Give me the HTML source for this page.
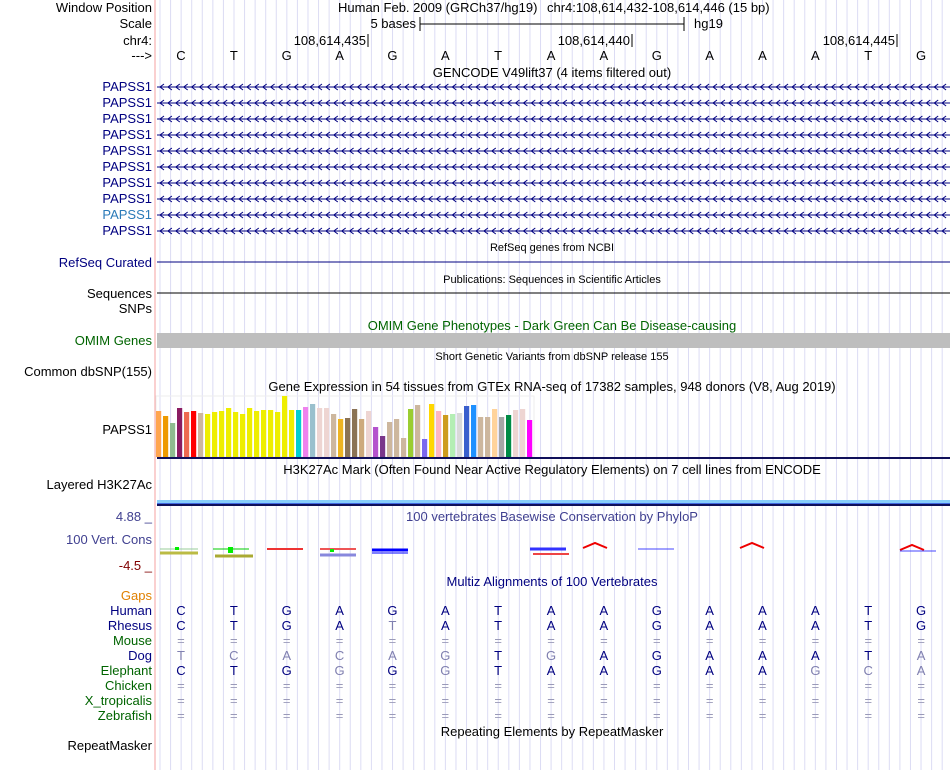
<!DOCTYPE html>
<html><head><meta charset="utf-8"><style>
html,body{margin:0;padding:0;background:#fff;}
svg{display:block;font-family:"Liberation Sans",sans-serif;font-size:13px;}
</style></head><body>
<svg id="c" width="950" height="770">
</svg>
<script>
const bases=["C","T","G","A","G","A","T","A","A","G","A","A","A","T","G"];
const gtexValues=[46,41,34,49,45,46,44,43,45,46,49,45,43,49,46,47,47,45,61,47,47,50,53,49,49,43,38,39,48,38,46,30,21,35,38,19,48,52,18,53,46,42,43,44,51,52,40,40,48,40,42,47,48,37];
const gtexColors=["#FFA54F","#EE9A00","#8FBC8F","#8B1C62","#EE6A50","#FF0000","#CDB79E","#EEEE00","#EEEE00","#EEEE00","#EEEE00","#EEEE00","#EEEE00","#EEEE00","#EEEE00","#EEEE00","#EEEE00","#EEEE00","#EEEE00","#EEEE00","#00CED1","#EE82EE","#9AC0CD","#EED5D2","#EED5D2","#CDB79E","#EEB422","#8B7355","#8B7355","#CDAA7D","#EED5D2","#B452CD","#7A378B","#CDB79E","#CDB79E","#CDB79E","#9ACD32","#CDB79E","#7B68EE","#FFD700","#FFB6C1","#CD9B1D","#B4EEB4","#D9D9D9","#3A5FCD","#1E90FF","#CDB79E","#CDB79E","#FFD39B","#A6A6A6","#008B45","#EED5D2","#EED5D2","#FF00FF"];
const rhesus=["C","T","G","A","T","A","T","A","A","G","A","A","A","T","G"];
const rhesusDark=[1,1,1,1,0,1,1,1,1,1,1,1,1,1,1];
const dog=["T","C","A","C","A","G","T","G","A","G","A","A","A","T","A"];
const dogDark=[0,0,0,0,0,0,1,0,1,1,1,1,1,1,0];
const elephant=["C","T","G","G","G","G","T","A","A","G","A","A","G","C","A"];
const elephantDark=[1,1,1,0,1,0,1,1,1,1,1,1,0,0,0];

const S=document.getElementById('c');const NS="http://www.w3.org/2000/svg";
function el(t,a,txt){const e=document.createElementNS(NS,t);for(const k in a)e.setAttribute(k,a[k]);if(txt!==undefined)e.textContent=txt;S.appendChild(e);return e;}
const x0=154.5,bw=52.87;
function bx(i){return x0+bw*(i+0.5);}
for(let x=160;x<950;x+=10.57){const g=el('line',{x1:x,x2:x,y1:0,y2:770,stroke:'#dcdcf4','stroke-width':1});

}
const rl=el('line',{x1:155,x2:155,y1:0,y2:770,stroke:'#f4a0a0'});

function lab(t,y,c,name){const e=el('text',{x:152,y:y,'text-anchor':'end',fill:c||'#000'},t);

return e;}
function title(t,y,c,fs,name){const e=el('text',{x:552,y:y,'text-anchor':'middle',fill:c||'#000','font-size':fs||13},t);

return e;}
lab('Window Position',12,'#000','window-position-label');lab('Scale',28,'#000','scale-label');lab('chr4:',45,'#000','chr-label');lab('--->',60,'#000','strand-label');
el('text',{x:338,y:12},'Human Feb. 2009 (GRCh37/hg19)');
el('text',{x:547,y:12},'chr4:108,614,432-108,614,446 (15 bp)');
el('text',{x:416,y:28,'text-anchor':'end'},'5 bases');
el('line',{x1:420,x2:684,y1:24,y2:24,stroke:'#000'});el('line',{x1:420,x2:420,y1:17,y2:31,stroke:'#000'});el('line',{x1:684,x2:684,y1:17,y2:31,stroke:'#000'});
el('text',{x:694,y:28},'hg19');
[[368,'108,614,435'],[632,'108,614,440'],[897,'108,614,445']].forEach(p=>{el('text',{x:p[0]-2,y:45,'text-anchor':'end'},p[1]);el('line',{x1:p[0],x2:p[0],y1:34,y2:47,stroke:'#000'});});
bases.forEach((b,i)=>{const t=el('text',{x:bx(i),y:60,'text-anchor':'middle'},b);});
title('GENCODE V49lift37 (4 items filtered out)',77,'#000',13,'gencode-title');
for(let r=0;r<10;r++){const y=87+16*r;lab('PAPSS1',y+4,r==8?'#2a7ab8':'#000080','gene-label');
el('line',{x1:157,x2:950,y1:y,y2:y,stroke:'#000080'});
let d='';for(let x=160;x<948;x+=7.9){d+=`M${x+4} ${y-3}L${x} ${y}L${x+4} ${y+3}`;}
const p=el('path',{d:d,stroke:'#000080',fill:'none','stroke-width':1});}
title('RefSeq genes from NCBI',251,'#000',11,'refseq-title');lab('RefSeq Curated',267,'#000080','refseq-label');el('line',{x1:157,x2:950,y1:262,y2:262,stroke:'#000080'});
title('Publications: Sequences in Scientific Articles',283,'#000',11,'publications-title');lab('Sequences',298);el('line',{x1:157,x2:950,y1:293,y2:293,stroke:'#000'});
lab('SNPs',313);
title('OMIM Gene Phenotypes - Dark Green Can Be Disease-causing',330,'#006400',13,'omim-title');lab('OMIM Genes',345,'#006400','omim-label');
el('rect',{x:157,y:333,width:793,height:15,fill:'#bebebe'});
title('Short Genetic Variants from dbSNP release 155',360,'#000',11,'dbsnp-title');lab('Common dbSNP(155)',376);
title('Gene Expression in 54 tissues from GTEx RNA-seq of 17382 samples, 948 donors (V8, Aug 2019)',391,'#000',13,'gtex-title');
lab('PAPSS1',434,'#000','gtex-gene-label');
el('rect',{x:156,y:396,width:378,height:61,fill:'none',stroke:'#eee'});
const base=457,bstep=7.0;
gtexValues.forEach((v,i)=>{const r=el('rect',{x:156+i*bstep,y:base-v,width:5.2,height:v,fill:gtexColors[i]});

});
el('rect',{x:157,y:457,width:793,height:2,fill:'#10105a'});
title('H3K27Ac Mark (Often Found Near Active Regulatory Elements) on 7 cell lines from ENCODE',474,'#000',13,'h3k27ac-title');lab('Layered H3K27Ac',489);
el('rect',{x:157,y:500,width:793,height:3,fill:'#87cefa'});el('rect',{x:157,y:503,width:793,height:1,fill:'#4169e1'});el('rect',{x:157,y:504,width:793,height:2,fill:'#10105a'});
lab('4.88 _',521,'#404090','cons-max');lab('100 Vert. Cons',544,'#404090','cons-label');lab('-4.5 _',570,'#800000','cons-min');
title('100 vertebrates Basewise Conservation by PhyloP',521,'#404090',13,'phylop-title');
const g=[['M160 549h38','#9c9','1'],['M160 553h38','#bb4','3'],['M213 549h36','#0c0','1'],['M215 556h38','#aa3','3'],['M267 549h36','#e33','2'],['M320 549h36','#e55','2'],['M320 555h36','#88d','3'],['M372 550h36','#00f','3'],['M372 553h36','#00f','1'],['M530 549h36','#33f','3'],['M533 554h36','#e44','2'],['M583 548l12-5l12 5','#e00','2'],['M638 549h36','#44f','1'],['M740 548l12-5l12 5','#e00','2'],['M900 550l12-5l12 5','#e00','2'],['M900 551h36','#44f','1']];
g.forEach(q=>{const p=el('path',{d:q[0],stroke:q[1],'stroke-width':q[2],fill:'none'});});
el('rect',{x:175,y:547,width:4,height:3,fill:'#0e0'});el('rect',{x:228,y:547,width:5,height:6,fill:'#0e0'});el('rect',{x:330,y:549,width:4,height:3,fill:'#0e0'});
title('Multiz Alignments of 100 Vertebrates',586,'#000080',13,'multiz-title');
lab('Gaps',600,'#e08000','gaps-label');
const rows=[['Human',615,'#000080',bases,null],['Rhesus',630,'#000080',rhesus,rhesusDark],['Mouse',645,'#006400',null,null],['Dog',660,'#000080',dog,dogDark],['Elephant',675,'#006400',elephant,elephantDark],['Chicken',690,'#006400',null,null],['X_tropicalis',705,'#006400',null,null],['Zebrafish',720,'#006400',null,null]];
rows.forEach(r=>{lab(r[0],r[1],r[2],'species-label');
for(let i=0;i<15;i++){let t,c;if(r[3]){t=r[3][i];c=(!r[4]||r[4][i])?'#000080':'#8080b0';}else{t='=';c='#9a9ab8';}
const e=el('text',{x:bx(i),y:r[1],'text-anchor':'middle',fill:c},t);

}});
title('Repeating Elements by RepeatMasker',736,'#000',13,'repeatmasker-title');lab('RepeatMasker',750);
</script>
</body></html>
